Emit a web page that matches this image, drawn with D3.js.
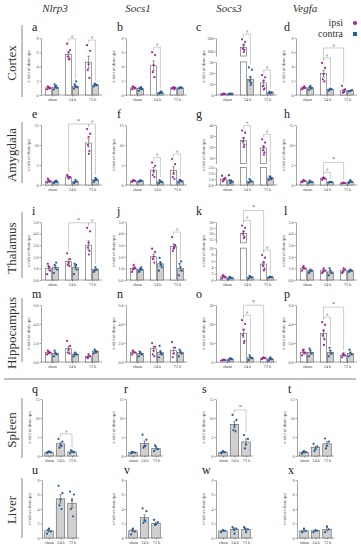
<!DOCTYPE html>
<html><head><meta charset="utf-8">
<script src="https://cdn.jsdelivr.net/npm/d3@7"></script>
<style>body{margin:0;background:#fff}svg{display:block}</style>
</head><body>
<svg id="chart" width="361" height="550"></svg>
<script>
const genes = ["Nlrp3","Socs1","Socs3","Vegfa"];
const regions = ["Cortex","Amygdala","Thalamus","Hippocampus","Spleen","Liver"];
const groups = ["sham","24 h","72 h"];
const letters = "abcdefghijklmnopqrstuvwx".split("");
const legendLabels = ["ipsi","contra"];
const yLabel = "x-fold of sham ipsi";

// lower y-axis ticks per panel (a..x)
const yTicks = [
 [0,2,4,6,8],[0,2,4,6,8],[0,10,20,30],[0,2,4,6,8],
 [0,5,10,15],[0,5,10,15],[0,1,2,3],[0,5,10,15],
 [0,1,2,3,4,5],[0,1,2,3,4,5],[0,2,4,6,8,10],[0,1,2,3,4,5],
 [0,2,4,6],[0,2,4,6],[0,10,20,30],[0,2,4,6],
 [0,5,10,15],[0,5,10,15],[0,5,10,15],[0,5,10,15],
 [0,2,4,6,8],[0,2,4,6,8],[0,2,4,6,8],[0,2,4,6,8]
];
// broken axes: upper segment start and ticks
const upperStart = {c:165, g:5, k:12};
const upperTicks = {c:[200,300], g:[10,20,30,40], k:[15,20,25,30]};

// brain panels a..p: means [sham, 24 h, 72 h]
const ipsiMean = [
 [1.0,5.7,4.6],[1.0,4.1,1.0],[1.0,230,11],[1.0,3.0,0.6],
 [1.0,2.0,10.5],[1.0,3.7,3.6],[1.0,26,19],[1.0,1.6,0.5],
 [1.0,1.6,3.0],[1.0,2.0,2.9],[1.0,20,5.0],[1.0,0.8,0.8],
 [1.0,1.4,0.6],[1.0,1.4,1.2],[1.0,15,2.0],[1.0,3.0,0.7]
];
const contraMean = [
 [1.1,1.2,1.4],[0.9,0.3,1.0],[1.0,14,2.0],[1.0,0.8,0.6],
 [0.8,0.8,1.3],[1.0,0.8,1.0],[0.7,0.6,1.2],[0.8,0.7,0.8],
 [1.1,1.1,0.9],[0.9,1.4,1.0],[0.7,0.9,0.9],[0.8,0.7,0.8],
 [0.9,0.8,1.1],[0.9,1.0,1.0],[1.5,2.2,1.6],[1.0,1.0,0.9]
];
const ipsiDots = [
 [[0.8,1.0,1.1,1.2,0.9],[7.2,6.3,6.0,5.4,5.1,5.0],[7.0,6.2,4.3,3.5,2.4]],
 [[0.8,1.0,1.1,1.2,0.9],[6.0,5.6,4.2,3.2,2.5],[0.9,1.0,1.1,1.0,0.8]],
 [[0.5,1.0,1.2,0.8],[290,270,250,220,210,195],[18,16,13,8,6,5]],
 [[0.8,1.0,1.1,0.9,1.2],[4.5,3.8,2.9,2.2,1.9],[1.3,0.8,0.4,0.3,0.5]],
 [[0.6,0.9,1.2,1.6,0.8],[2.5,2.0,1.6,2.2,1.8],[14,12.8,12,10,8.5,7.8]],
 [[0.8,1.0,1.2,1.1],[5.6,4.8,3.5,2.5,2.0],[6.5,5.2,3.0,2.0,1.5]],
 [[1.6,1.2,0.8,0.6,1.0],[35,33,28,25,22,20],[27,24,20,17,15,13]],
 [[0.7,1.0,1.3,0.9],[1.3,1.6,1.9,1.7],[0.4,0.5,0.6,0.5]],
 [[0.5,0.8,1.2,1.4,1.1],[2.3,1.8,1.5,1.3,1.2],[4.5,4.2,3.2,2.8,2.5,2.2]],
 [[0.7,1.0,1.3,0.9,1.1],[2.7,2.4,2.0,1.8,1.5],[3.7,3.0,2.7,2.5,2.8]],
 [[0.5,0.8,1.2,1.5,1.0],[27,25,22,20,17,16],[7.8,7.0,5.5,4.5,3.5,3.0]],
 [[0.8,1.0,1.2,1.1],[0.6,0.8,1.0,0.7],[0.6,0.9,1.0,0.7]],
 [[0.8,1.0,1.1,1.2,0.9],[2.2,1.7,1.3,1.0,0.9],[0.5,0.6,0.8,0.4]],
 [[0.8,1.0,1.1,1.2],[2.0,1.6,1.2,0.8,0.6],[2.1,1.5,0.9,0.5]],
 [[0.8,1.0,1.2,1.0],[22,20,17,14,11,10],[1.5,2.0,2.5,2.2]],
 [[0.7,1.0,1.3,1.2,0.9],[4.2,3.9,3.3,2.8,2.4,1.8],[0.5,0.7,0.9,0.8]]
];
const contraDots = [
 [[0.8,1.0,1.2,1.5,1.3],[0.9,1.1,1.3,1.5,1.9],[1.2,1.4,1.5,1.6,1.4]],
 [[0.6,0.8,0.9,1.0,1.1],[0.2,0.3,0.4,0.3,0.5],[0.9,1.0,1.1,1.0]],
 [[0.8,1.2,1.0,1.3],[25,23,16,13,11,9],[2.0,2.5,1.5,3.0]],
 [[0.7,1.0,1.3,1.1,0.9],[0.6,0.8,0.9,0.8],[0.5,0.7,0.6,0.6]],
 [[0.5,0.8,1.0,0.7,1.1],[0.5,0.9,1.3,0.7],[0.8,1.3,1.8,1.1,1.5]],
 [[0.8,1.0,1.2,1.0],[0.4,0.7,1.0,1.2],[0.6,0.9,1.2,1.3]],
 [[1.7,0.5,0.3,0.8,0.7],[0.4,0.6,0.8,1.0],[0.9,1.2,1.4,1.5,1.0]],
 [[0.5,0.7,0.9,1.1],[0.6,0.7,0.8,0.7],[0.5,0.8,1.2,0.9]],
 [[0.6,0.9,1.1,1.3,1.5],[0.5,0.9,1.2,1.4,1.3],[0.7,0.9,1.1,0.8]],
 [[0.7,0.9,1.0,0.8,1.1],[0.8,1.1,1.5,1.9,1.3],[0.4,0.8,1.1,1.4,1.6]],
 [[0.4,0.6,0.8,1.0],[0.5,0.8,1.0,1.3],[0.7,0.9,1.0,1.1]],
 [[0.6,0.8,0.9,0.7],[0.4,0.6,0.8,1.0],[0.7,0.8,0.9,0.8]],
 [[0.6,0.8,1.0,1.2],[0.6,0.8,1.0,0.9],[0.9,1.1,1.2,1.3,1.0]],
 [[0.6,0.8,1.0,1.1],[0.5,0.8,1.1,1.7,0.9],[0.6,0.9,1.1,1.3]],
 [[0.8,1.5,2.0,1.6],[1.0,2.0,2.5,3.5],[0.8,1.5,2.5,1.8]],
 [[0.6,0.9,1.2,1.4],[0.6,0.9,1.2,1.5],[0.6,0.8,1.0,1.3]]
];
// peripheral panels q..x
const periphMean = [
 [1.0,3.2,1.1],[0.9,3.3,2.0],[1.0,8.3,3.7],[1.0,2.2,3.2],
 [1.0,5.4,4.8],[1.0,2.8,2.0],[1.0,1.2,1.2],[1.0,1.0,1.2]
];
const periphDots = [
 [[0.8,1.0,1.2,1.1],[4.5,3.8,2.8,2.2,2.6],[0.7,1.0,1.3,1.5]],
 [[0.7,0.9,1.0,1.1],[5.6,4.3,2.5,2.2,2.7],[1.3,1.8,2.5,2.8]],
 [[0.7,1.0,1.3,1.0],[10.8,9.5,8.0,6.8,6.5],[5.5,4.5,3.0,2.0]],
 [[0.6,1.0,1.3,1.1],[3.2,2.5,1.8,1.3],[4.6,3.8,2.7,2.0]],
 [[0.6,0.9,1.3,1.1],[7.2,6.2,5.3,4.5,4.0],[6.4,6.0,5.2,4.0,3.0]],
 [[0.5,0.9,1.3,1.1],[4.1,3.7,2.5,2.1,2.3],[2.5,2.2,1.9,1.8]],
 [[0.8,1.0,1.1],[1.5,1.3,0.6,1.2],[1.5,1.2,0.8,1.3]],
 [[0.8,1.0,1.3],[0.8,1.0,1.1],[0.8,1.2,1.6]]
];
// significance: [panel, group1, series1, group2, series2, symbol, level]
const sigs = [
 ["a",1,"i",1,"c","#",0],["a",2,"i",2,"c","#",0],
 ["b",1,"i",1,"c","#",0],
 ["c",1,"i",1,"c","#",0],["c",2,"i",2,"c","#",0],
 ["d",1,"i",1,"c","#",0],["d",1,"i",2,"i","#",1],
 ["e",1,"i",2,"i","*",0],["e",2,"i",2,"c","#",0],
 ["f",1,"i",1,"c","#",0],["f",2,"i",2,"c","#",0],
 ["g",1,"i",1,"c","#",0],["g",2,"i",2,"c","#",0],
 ["h",1,"i",1,"c","#",0],["h",1,"i",2,"i","*",1],
 ["i",1,"i",2,"i","*",0],["i",2,"i",2,"c","#",0],
 ["j",2,"i",2,"c","#",0],
 ["k",1,"i",1,"c","#",0],["k",1,"i",2,"i","*",1],["k",2,"i",2,"c","#",0],
 ["o",1,"i",1,"c","#",0],["o",1,"i",2,"i","*",1],
 ["p",1,"i",1,"c","#",0],["p",1,"i",2,"i","*",1],
 ["q",1,"p",2,"p","#",0],
 ["s",1,"p",2,"p","*",0]
];

// ---------- layout & style ----------
const L = {
  brainX:[41,126,216,296], brainW:61,
  periphX:[42,126,216,297], periphW:37,
  rowTop:[38,125,222,305,399,480], rowBottom:[95,185,280,362,456,538],
  letterX:[[32,117,196,284],[32,124,202,288]],
  rowLine:[[25,97],[122,183],[212,278],[298,362],[398,458],[478,538]],
  rowLabelY:[63,155,248,333,430,510],
  titleX:[55,138,229,305],
  breaks:{c:[0.58,0.684], g:[0.29,0.36], k:[0.55,0.64]}
};
const C = {mag:"#a3219c", blue:"#215e9c", axis:"#4a4a4a", bar:"#5c5c5c", gray:"#d0d0d0", brk:"#a9a9a9", text:"#333"};
const SERIF = "'Liberation Serif','Times New Roman',serif";
const svg = d3.select("#chart");
const jit = [-1.5,1.5,0,-0.8,0.8,0.3];

function makeY(letter, idx, top, bottom){
  const t = yTicks[idx], lowMax = t[t.length-1], H = bottom-top;
  if (upperStart[letter] !== undefined){
    const br = L.breaks[letter];
    const lowTop = bottom - br[0]*H, upBot = bottom - br[1]*H;
    const ut = upperTicks[letter], upMin = upperStart[letter];
    const low = d3.scaleLinear().domain([0,lowMax]).range([bottom,lowTop]);
    const up = d3.scaleLinear().domain([upMin, ut[ut.length-1]]).range([upBot, top]);
    return {broken:true, low, up, lowMax, upMin, lowTop,
      f: v => v<=lowMax ? low(v) : (v>=upMin ? up(v) : lowTop)};
  }
  const s = d3.scaleLinear().domain([0,lowMax]).range([bottom,top]);
  return {broken:false, low:s, f:s, lowMax};
}

function drawYAxis(g, scale, ticks, x0){
  const a = g.append("g").attr("transform",`translate(${x0},0)`)
    .call(d3.axisLeft(scale).tickValues(ticks).tickSize(1.5).tickSizeOuter(0).tickPadding(1));
  a.attr("font-size",4).attr("font-family",SERIF).attr("color",C.axis);
  a.selectAll("line,path").attr("stroke-width",0.5);
}

function sem(arr){ return arr.length>1 ? d3.deviation(arr)/Math.sqrt(arr.length) : 0; }

function drawPanel(p){
  const g = svg.append("g");
  const y = makeY(p.letter, p.idx, p.top, p.bottom);
  drawYAxis(g, y.low, yTicks[p.idx], p.x0);
  if (y.broken) drawYAxis(g, y.up, upperTicks[p.letter], p.x0);
  // x axis
  g.append("line").attr("x1",p.x0).attr("x2",p.x0+p.W).attr("y1",p.bottom).attr("y2",p.bottom)
    .attr("stroke",C.axis).attr("stroke-width",0.5);
  const xg = d3.scalePoint().domain(groups).range(p.brain ? [p.x0+11,p.x0+51] : [p.x0+7,p.x0+30]);
  const xa = g.append("g").attr("transform",`translate(0,${p.bottom})`)
    .call(d3.axisBottom(xg).tickSize(1.5).tickSizeOuter(0).tickPadding(1.5));
  xa.select(".domain").remove();
  xa.attr("font-size",4.3).attr("font-family",SERIF).attr("color",C.axis);
  xa.selectAll("line").attr("stroke-width",0.5);
  // y label
  g.append("text").attr("transform",`translate(${p.x0-11.5},${(p.top+p.bottom)/2}) rotate(-90)`)
    .attr("text-anchor","middle").attr("font-size",4.3).attr("font-family",SERIF).attr("fill",C.text).text(yLabel);
  // letter
  g.append("text").attr("x",p.letterX).attr("y",p.top-(p.brain?7:6)).attr("font-size",12)
    .attr("font-family",SERIF).attr("fill","#222").text(p.letter);

  const series = p.brain ? [{k:"i",mean:ipsiMean[p.idx],dots:ipsiDots[p.idx],fill:"#fff",dc:C.mag,off:-3.4},
                            {k:"c",mean:contraMean[p.idx],dots:contraDots[p.idx],fill:C.gray,dc:C.blue,off:3.4}]
                         : [{k:"p",mean:periphMean[p.idx-16],dots:periphDots[p.idx-16],fill:C.gray,dc:C.blue,off:0}];
  const bw = p.brain ? 6 : 8.5;
  const info = {};
  groups.forEach((gr,gi)=>{
    series.forEach(s=>{
      const cx = xg(gr)+s.off, m = s.mean[gi], d = s.dots[gi], e = sem(d);
      if (y.broken && m > y.lowMax){
        g.append("rect").attr("x",cx-bw/2).attr("y",y.lowTop).attr("width",bw).attr("height",p.bottom-y.lowTop)
          .attr("fill",s.fill).attr("stroke",C.bar).attr("stroke-width",0.6);
        g.append("rect").attr("x",cx-bw/2).attr("y",y.up(m)).attr("width",bw).attr("height",y.up(y.upMin)-y.up(m))
          .attr("fill",s.fill).attr("stroke",C.bar).attr("stroke-width",0.6);
      } else {
        g.append("rect").attr("x",cx-bw/2).attr("y",y.f(m)).attr("width",bw).attr("height",p.bottom-y.f(m))
          .attr("fill",s.fill).attr("stroke",C.bar).attr("stroke-width",0.6);
      }
      const y1 = y.f(m+e), y2 = y.f(Math.max(0,m-e));
      g.append("line").attr("x1",cx).attr("x2",cx).attr("y1",y1).attr("y2",y2).attr("stroke","#333").attr("stroke-width",0.5);
      [y1,y2].forEach(yy=>g.append("line").attr("x1",cx-1.2).attr("x2",cx+1.2).attr("y1",yy).attr("y2",yy).attr("stroke","#333").attr("stroke-width",0.5));
      d.forEach((v,k)=>{
        g.append("circle").attr("cx",cx+jit[k%jit.length]*(p.brain?1:1.3)).attr("cy",y.f(v)).attr("r",1.1).attr("fill",s.dc);
      });
      info[gi+s.k] = {cx, top: y.f(Math.max(d3.max(d), m+e)), order: gi*2+(s.k==="c"?1:0)};
    });
  });
  // significance brackets
  sigs.filter(s=>s[0]===p.letter).forEach(s=>{
    const A = info[s[1]+s[2]], B = info[s[3]+s[4]];
    const lo = Math.min(A.order,B.order), hi = Math.max(A.order,B.order);
    const span = Object.values(info).filter(o=>o.order>=lo && o.order<=hi);
    const by = d3.min(span,o=>o.top) - 5 - s[6]*10;
    const la = Math.max(by+3, A.top-3), lb = Math.max(by+3, B.top-3);
    g.append("path").attr("d",`M${A.cx},${la}V${by}H${B.cx}V${lb}`).attr("fill","none")
      .attr("stroke",C.brk).attr("stroke-width",0.6);
    const col = s[5]==="#" ? "#555" : (s[2]==="p" ? C.blue : C.mag);
    g.append("text").attr("x",(A.cx+B.cx)/2).attr("y",by-1.2).attr("text-anchor","middle")
      .attr("font-size",s[5]==="#"?4.5:6).attr("font-family",SERIF).attr("fill",col).text(s[5]);
  });
}

// brain panels
for (let r=0;r<4;r++) for (let c=0;c<4;c++){
  const idx = r*4+c;
  drawPanel({letter:letters[idx], idx, brain:true, x0:L.brainX[c], W:L.brainW,
    top:L.rowTop[r], bottom:L.rowBottom[r], letterX:L.letterX[0][c]});
}
// peripheral panels
for (let r=0;r<2;r++) for (let c=0;c<4;c++){
  const idx = 16+r*4+c;
  drawPanel({letter:letters[idx], idx, brain:false, x0:L.periphX[c], W:L.periphW,
    top:L.rowTop[4+r], bottom:L.rowBottom[4+r], letterX:L.letterX[1][c]});
}

// gene titles
genes.forEach((gn,i)=>svg.append("text").attr("x",L.titleX[i]).attr("y",12).attr("text-anchor","middle")
  .attr("font-size",11).attr("font-style","italic").attr("font-family",SERIF).attr("fill",C.text).text(gn));

// row labels and lines
regions.forEach((rg,i)=>{
  svg.append("text").attr("transform",`translate(16,${L.rowLabelY[i]}) rotate(-90)`).attr("text-anchor","middle")
    .attr("font-size",13).attr("font-family",SERIF).attr("fill",C.text).text(rg);
  svg.append("line").attr("x1",22).attr("x2",22).attr("y1",L.rowLine[i][0]).attr("y2",L.rowLine[i][1])
    .attr("stroke","#555").attr("stroke-width",0.7);
});
// separator
svg.append("line").attr("x1",4).attr("x2",356).attr("y1",379).attr("y2",379).attr("stroke","#666").attr("stroke-width",0.8);

// legend
legendLabels.forEach((lb,i)=>{
  const yy = 23 + i*11;
  svg.append("text").attr("x",343).attr("y",yy+3).attr("text-anchor","end").attr("font-size",10)
    .attr("font-family",SERIF).attr("fill",C.text).text(lb);
  if (i===0) svg.append("circle").attr("cx",355).attr("cy",yy).attr("r",2).attr("fill",C.mag);
  else svg.append("rect").attr("x",353).attr("y",yy-2).attr("width",4).attr("height",4).attr("fill",C.blue);
});
</script>
</body></html>
